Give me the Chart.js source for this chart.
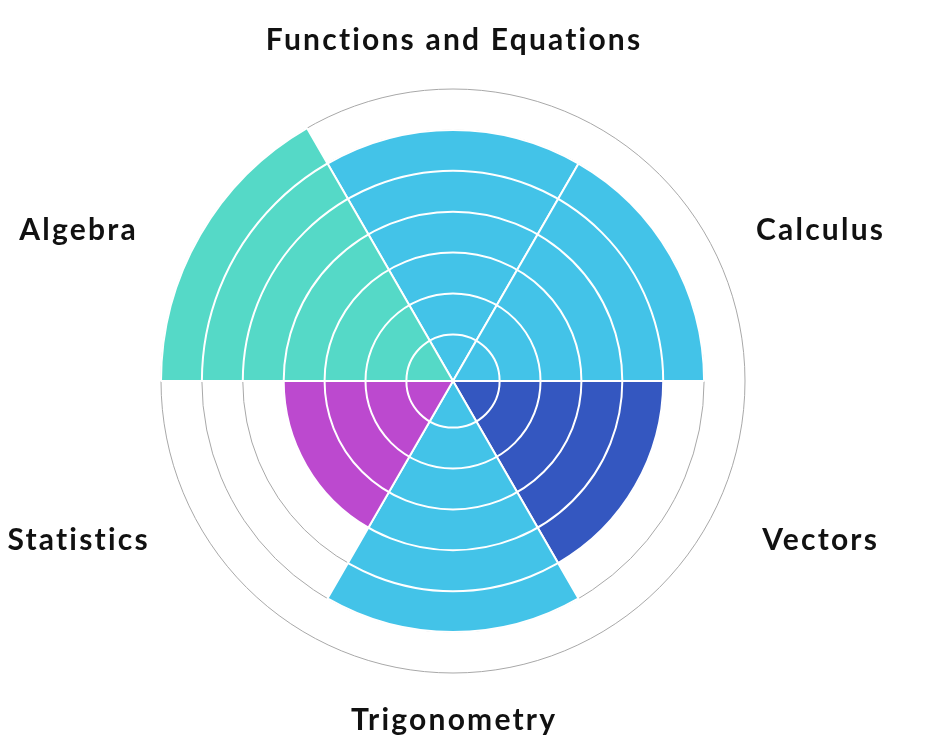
<!DOCTYPE html>
<html>
<head>
<meta charset="utf-8">
<script src="https://cdn.jsdelivr.net/npm/chart.js@4"></script>
<style>
  html, body { margin: 0; padding: 0; background: #fff; }
  #wrap { width: 931px; height: 747px; }
</style>
</head>
<body>
<div id="wrap"><canvas id="topicChart"></canvas></div>
<script>
// Topics, clockwise from the top
const topics = ['Functions and Equations', 'Calculus', 'Vectors', 'Trigonometry', 'Statistics', 'Algebra'];
const scores = [6, 6, 5, 6, 4, 7];
const colours = ['#43c3e8', '#43c3e8', '#3457c0', '#43c3e8', '#bc49cf', '#55d9c7'];
const scaleMin = -0.14;
const scaleMax = 7;

const labelFont = { family: 'Lato', weight: 'bold', size: 30, spacing: 2.2 };

// white rings drawn inside each slice, at every tick
const sliceRings = {
    id: 'sliceRings',
    afterDatasetsDraw(chart) {
        const ctx = chart.ctx;
        const scale = chart.scales.r;
        const meta = chart.getDatasetMeta(0);
        meta.data.forEach((arc, i) => {
            const p = arc.getProps(['x', 'y', 'startAngle', 'endAngle', 'outerRadius']);
            ctx.save();
            ctx.beginPath();
            ctx.moveTo(p.x, p.y);
            ctx.arc(p.x, p.y, p.outerRadius, p.startAngle, p.endAngle);
            ctx.closePath();
            ctx.clip();
            ctx.strokeStyle = '#fff';
            ctx.lineWidth = 2;
            scale.ticks.forEach(t => {
                if (t.value <= 0 || t.value >= scores[i]) return;
                const r = scale.getDistanceFromCenterForValue(t.value);
                ctx.beginPath();
                ctx.arc(p.x, p.y, r, 0, Math.PI * 2);
                ctx.stroke();
            });
            ctx.restore();
        });
    }
};

// topic names round the outside
const topicLabels = {
    id: 'topicLabels',
    afterDraw(chart) {
        const ctx = chart.ctx;
        const scale = chart.scales.r;
        const R = scale.drawingArea;
        const half = Math.PI / topics.length;
        ctx.save();
        ctx.font = labelFont.weight + ' ' + labelFont.size + 'px ' + labelFont.family;
        ctx.letterSpacing = labelFont.spacing + 'px';
        ctx.fillStyle = '#111';
        ctx.textAlign = 'center';
        ctx.textBaseline = 'alphabetic';
        const capH = labelFont.size * 0.7165;
        topics.forEach((name, i) => {
            const a = scale.getIndexAngle(i) + half;
            const s = Math.sin(a), c = Math.cos(a);
            let x, y;
            if (Math.abs(s) < 0.1) {
                x = scale.xCenter;
                y = scale.yCenter - c * (R + 48) - 2;
            } else {
                x = scale.xCenter + Math.sign(s) * (R + 79) - 4.5;
                y = scale.yCenter - c * (R + 18) + 3.5;
            }
            ctx.fillText(name, x + labelFont.spacing / 2, y + capH / 2);
        });
        ctx.restore();
    }
};

new Chart(document.getElementById('topicChart'), {
    type: 'polarArea',
    data: {
        labels: topics,
        datasets: [{
            data: scores,
            backgroundColor: colours,
            borderColor: '#fff',
            borderWidth: 2
        }]
    },
    options: {
        responsive: true,
        maintainAspectRatio: false,
        animation: false,
        layout: { padding: { top: 89, bottom: 74, left: 0, right: 25 } },
        plugins: {
            legend: { display: false },
            tooltip: { enabled: false }
        },
        scales: {
            r: {
                min: scaleMin,
                max: scaleMax,
                startAngle: -30,
                ticks: { display: false, stepSize: 1 },
                angleLines: { display: false },
                pointLabels: { display: false },
                grid: {
                    circular: true,
                    lineWidth: 1,
                    color: c => c.tick && c.tick.value > 0 ? '#a8a8a8' : 'rgba(0,0,0,0)'
                }
            }
        }
    },
    plugins: [sliceRings, topicLabels]
});
</script>
</body>
</html>
